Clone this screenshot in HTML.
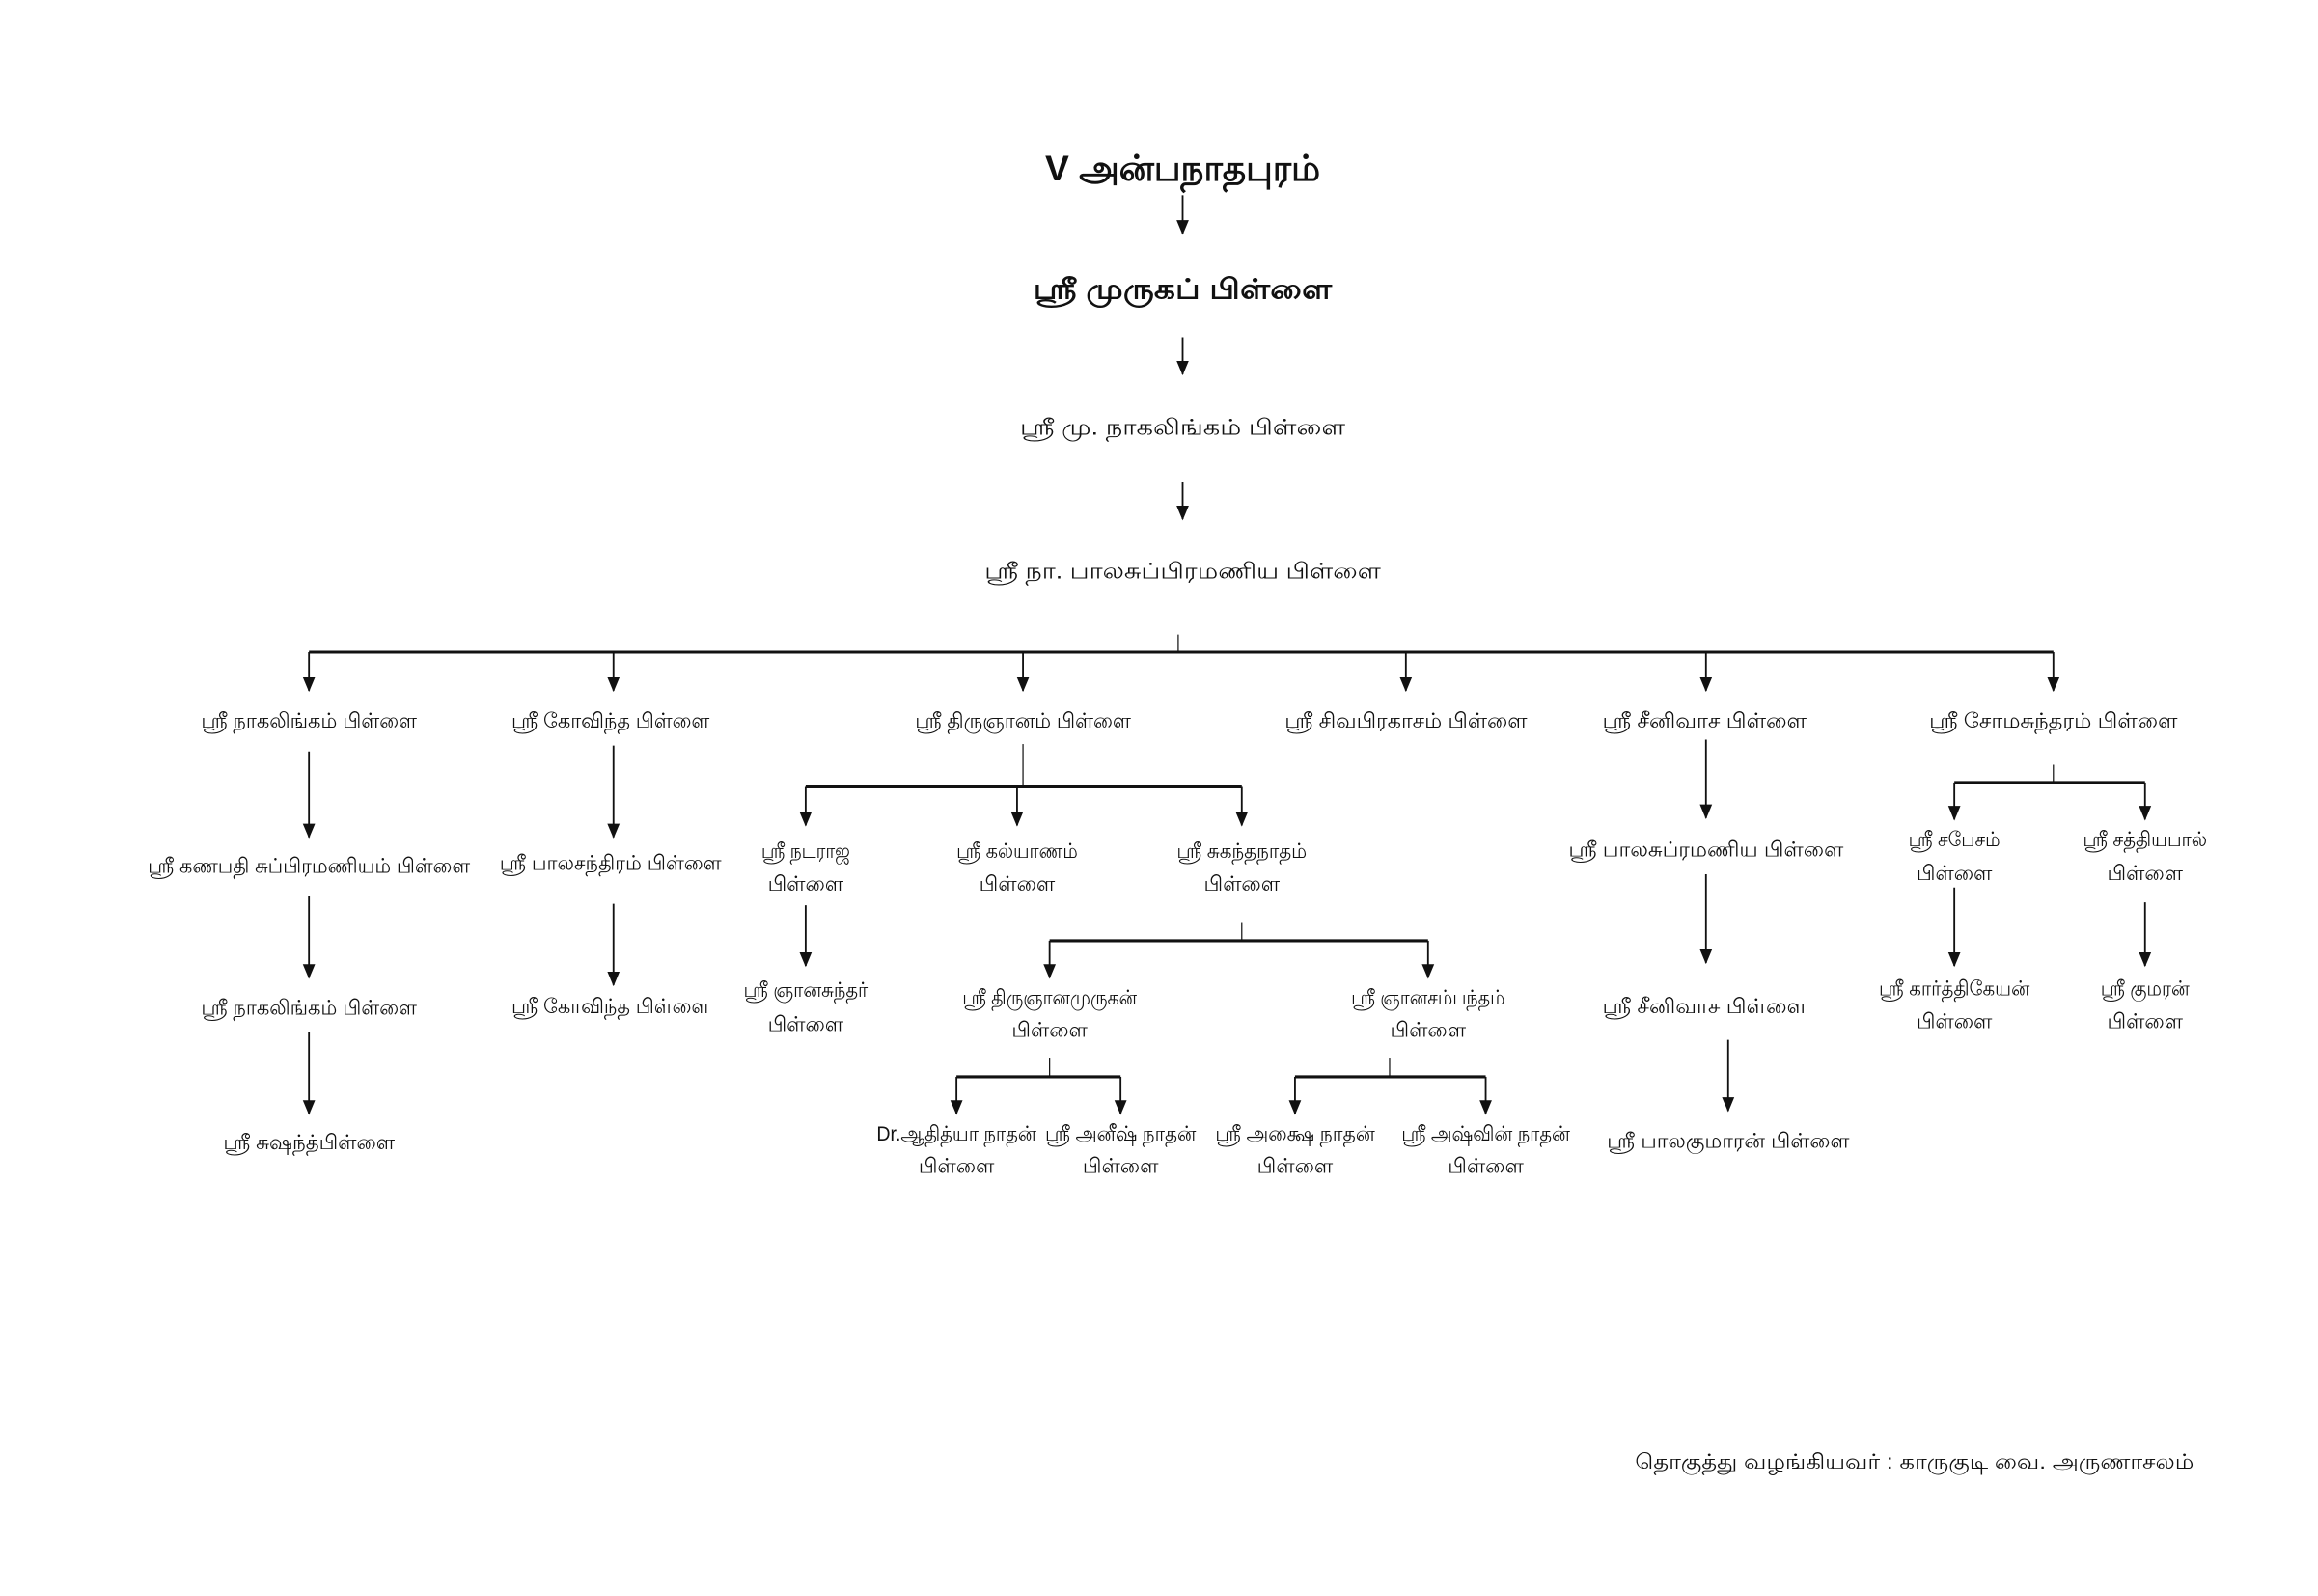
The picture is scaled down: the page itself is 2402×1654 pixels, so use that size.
<!DOCTYPE html>
<html><head><meta charset="utf-8"><style>html,body{margin:0;padding:0;background:#fff}svg{display:block}text{font-family:"Liberation Sans","Noto Sans CJK JP",sans-serif;fill:#111;text-anchor:middle}</style></head>
<body>
<svg width="2402" height="1654" viewBox="0 0 1568 1079" preserveAspectRatio="none" xmlns="http://www.w3.org/2000/svg">
<defs>
<marker id="b" markerUnits="userSpaceOnUse" markerWidth="10" markerHeight="12" refX="11" refY="5" orient="auto" viewBox="0 0 12 10"><path d="M0,0 L12,5 L0,10 Z" fill="#111"/></marker></defs>
<g stroke="#111" stroke-width="1.2" fill="none">
<line x1="800" y1="132" x2="800" y2="158" marker-end="url(#b)"/>
<line x1="800" y1="228" x2="800" y2="253" marker-end="url(#b)"/>
<line x1="800" y1="326" x2="800" y2="351" marker-end="url(#b)"/>
<line x1="797" y1="429" x2="797" y2="441" stroke-width="0.8"/>
<line x1="209" y1="441" x2="1389" y2="441" stroke-width="2"/>
<line x1="209" y1="441" x2="209" y2="467" marker-end="url(#b)"/>
<line x1="415" y1="441" x2="415" y2="467" marker-end="url(#b)"/>
<line x1="692" y1="441" x2="692" y2="467" marker-end="url(#b)"/>
<line x1="951" y1="441" x2="951" y2="467" marker-end="url(#b)"/>
<line x1="1154" y1="441" x2="1154" y2="467" marker-end="url(#b)"/>
<line x1="1389" y1="441" x2="1389" y2="467" marker-end="url(#b)"/>
<line x1="209" y1="508" x2="209" y2="566" marker-end="url(#b)"/>
<line x1="209" y1="606" x2="209" y2="661" marker-end="url(#b)"/>
<line x1="209" y1="698" x2="209" y2="753" marker-end="url(#b)"/>
<line x1="415" y1="504" x2="415" y2="566" marker-end="url(#b)"/>
<line x1="415" y1="611" x2="415" y2="666" marker-end="url(#b)"/>
<line x1="692" y1="503" x2="692" y2="532" stroke-width="0.8"/>
<line x1="545" y1="532" x2="840" y2="532" stroke-width="2"/>
<line x1="545" y1="532" x2="545" y2="558" marker-end="url(#b)"/>
<line x1="688" y1="532" x2="688" y2="558" marker-end="url(#b)"/>
<line x1="840" y1="532" x2="840" y2="558" marker-end="url(#b)"/>
<line x1="545" y1="612" x2="545" y2="653" marker-end="url(#b)"/>
<line x1="840" y1="624" x2="840" y2="636" stroke-width="0.8"/>
<line x1="710" y1="636" x2="966" y2="636" stroke-width="2"/>
<line x1="710" y1="636" x2="710" y2="661" marker-end="url(#b)"/>
<line x1="966" y1="636" x2="966" y2="661" marker-end="url(#b)"/>
<line x1="710" y1="715" x2="710" y2="728" stroke-width="0.8"/>
<line x1="647" y1="728" x2="758" y2="728" stroke-width="2"/>
<line x1="647" y1="728" x2="647" y2="753" marker-end="url(#b)"/>
<line x1="758" y1="728" x2="758" y2="753" marker-end="url(#b)"/>
<line x1="940" y1="715" x2="940" y2="728" stroke-width="0.8"/>
<line x1="876" y1="728" x2="1005" y2="728" stroke-width="2"/>
<line x1="876" y1="728" x2="876" y2="753" marker-end="url(#b)"/>
<line x1="1005" y1="728" x2="1005" y2="753" marker-end="url(#b)"/>
<line x1="1154" y1="500" x2="1154" y2="553" marker-end="url(#b)"/>
<line x1="1154" y1="591" x2="1154" y2="651" marker-end="url(#b)"/>
<line x1="1169" y1="703" x2="1169" y2="751" marker-end="url(#b)"/>
<line x1="1389" y1="517" x2="1389" y2="529" stroke-width="0.8"/>
<line x1="1322" y1="529" x2="1451" y2="529" stroke-width="2"/>
<line x1="1322" y1="529" x2="1322" y2="554" marker-end="url(#b)"/>
<line x1="1451" y1="529" x2="1451" y2="554" marker-end="url(#b)"/>
<line x1="1322" y1="600" x2="1322" y2="653" marker-end="url(#b)"/>
<line x1="1451" y1="610" x2="1451" y2="653" marker-end="url(#b)"/>
</g>
<g font-size="14">
<text x="800" y="122" font-size="24" font-weight="bold" textLength="186" lengthAdjust="spacingAndGlyphs">V அன்பநாதபுரம்</text>
<text x="800" y="202" font-size="19" font-weight="bold" textLength="202" lengthAdjust="spacingAndGlyphs">ஸ்ரீ முருகப் பிள்ளை</text>
<text x="800" y="294" font-size="15" textLength="220" lengthAdjust="spacingAndGlyphs">ஸ்ரீ மு. நாகலிங்கம் பிள்ளை</text>
<text x="800" y="391" font-size="15" textLength="268" lengthAdjust="spacingAndGlyphs">ஸ்ரீ நா. பாலசுப்பிரமணிய பிள்ளை</text>
<text x="209" y="492" textLength="146" lengthAdjust="spacingAndGlyphs">ஸ்ரீ நாகலிங்கம் பிள்ளை</text>
<text x="413" y="492" textLength="134" lengthAdjust="spacingAndGlyphs">ஸ்ரீ கோவிந்த பிள்ளை</text>
<text x="692" y="492" textLength="146" lengthAdjust="spacingAndGlyphs">ஸ்ரீ திருஞானம் பிள்ளை</text>
<text x="951" y="492" textLength="164" lengthAdjust="spacingAndGlyphs">ஸ்ரீ சிவபிரகாசம் பிள்ளை</text>
<text x="1153" y="492" textLength="138" lengthAdjust="spacingAndGlyphs">ஸ்ரீ சீனிவாச பிள்ளை</text>
<text x="1389" y="492" textLength="168" lengthAdjust="spacingAndGlyphs">ஸ்ரீ சோமசுந்தரம் பிள்ளை</text>
<text x="209" y="590" textLength="218" lengthAdjust="spacingAndGlyphs">ஸ்ரீ கணபதி சுப்பிரமணியம் பிள்ளை</text>
<text x="209" y="686" textLength="146" lengthAdjust="spacingAndGlyphs">ஸ்ரீ நாகலிங்கம் பிள்ளை</text>
<text x="209" y="777" textLength="116" lengthAdjust="spacingAndGlyphs">ஸ்ரீ சுஷந்த்பிள்ளை</text>
<text x="413" y="588" textLength="150" lengthAdjust="spacingAndGlyphs">ஸ்ரீ பாலசந்திரம் பிள்ளை</text>
<text x="413" y="685" textLength="134" lengthAdjust="spacingAndGlyphs">ஸ்ரீ கோவிந்த பிள்ளை</text>
<text x="545" y="580" textLength="60" lengthAdjust="spacingAndGlyphs">ஸ்ரீ நடராஜ</text><text x="545" y="602">பிள்ளை</text>
<text x="688" y="580" textLength="82" lengthAdjust="spacingAndGlyphs">ஸ்ரீ கல்யாணம்</text><text x="688" y="602">பிள்ளை</text>
<text x="840" y="580" textLength="88" lengthAdjust="spacingAndGlyphs">ஸ்ரீ சுகந்தநாதம்</text><text x="840" y="602">பிள்ளை</text>
<text x="545" y="674" textLength="84" lengthAdjust="spacingAndGlyphs">ஸ்ரீ ஞானசுந்தர்</text><text x="545" y="697">பிள்ளை</text>
<text x="710" y="679" textLength="118" lengthAdjust="spacingAndGlyphs">ஸ்ரீ திருஞானமுருகன்</text><text x="710" y="701">பிள்ளை</text>
<text x="966" y="679" textLength="104" lengthAdjust="spacingAndGlyphs">ஸ்ரீ ஞானசம்பந்தம்</text><text x="966" y="701">பிள்ளை</text>
<text x="647" y="771" textLength="108" lengthAdjust="spacingAndGlyphs">Dr.ஆதித்யா நாதன்</text><text x="647" y="793">பிள்ளை</text>
<text x="758" y="771" textLength="102" lengthAdjust="spacingAndGlyphs">ஸ்ரீ அனீஷ் நாதன்</text><text x="758" y="793">பிள்ளை</text>
<text x="876" y="771" textLength="108" lengthAdjust="spacingAndGlyphs">ஸ்ரீ அக்ஷை நாதன்</text><text x="876" y="793">பிள்ளை</text>
<text x="1005" y="771" textLength="114" lengthAdjust="spacingAndGlyphs">ஸ்ரீ அஷ்வின் நாதன்</text><text x="1005" y="793">பிள்ளை</text>
<text x="1154" y="579" textLength="186" lengthAdjust="spacingAndGlyphs">ஸ்ரீ பாலசுப்ரமணிய பிள்ளை</text>
<text x="1153" y="685" textLength="138" lengthAdjust="spacingAndGlyphs">ஸ்ரீ சீனிவாச பிள்ளை</text>
<text x="1169" y="776" textLength="164" lengthAdjust="spacingAndGlyphs">ஸ்ரீ பாலகுமாரன் பிள்ளை</text>
<text x="1322" y="572" textLength="62" lengthAdjust="spacingAndGlyphs">ஸ்ரீ சபேசம்</text><text x="1322" y="595">பிள்ளை</text>
<text x="1451" y="572" textLength="84" lengthAdjust="spacingAndGlyphs">ஸ்ரீ சத்தியபால்</text><text x="1451" y="595">பிள்ளை</text>
<text x="1322" y="673" textLength="102" lengthAdjust="spacingAndGlyphs">ஸ்ரீ கார்த்திகேயன்</text><text x="1322" y="695">பிள்ளை</text>
<text x="1451" y="673" textLength="60" lengthAdjust="spacingAndGlyphs">ஸ்ரீ குமரன்</text><text x="1451" y="695">பிள்ளை</text>
<text x="1295" y="993" textLength="378" lengthAdjust="spacingAndGlyphs">தொகுத்து வழங்கியவர் : காருகுடி வை. அருணாசலம்</text>
</g>
</svg>
</body></html>
